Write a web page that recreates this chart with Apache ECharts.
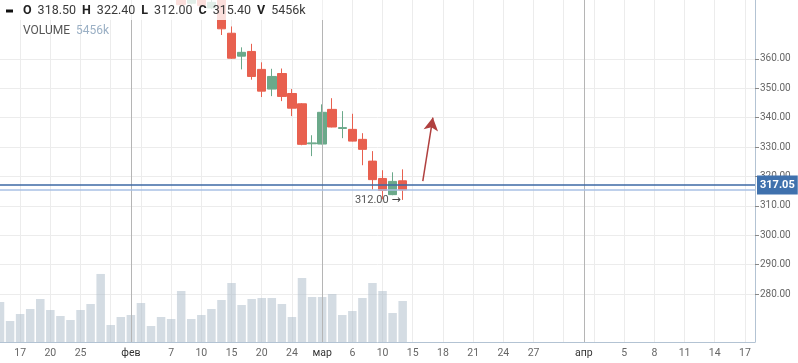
<!DOCTYPE html>
<html><head><meta charset="utf-8">
<script src="https://cdn.jsdelivr.net/npm/echarts@6/dist/echarts.min.js"></script>
<style>html,body{margin:0;padding:0;background:#fff;overflow:hidden}#c{width:798px;height:363px}</style>
</head><body><div id="c"></div>
<script>
// ---- data ----
const tradingDays = ['2023-01-13','2023-01-16','2023-01-17','2023-01-18','2023-01-19','2023-01-20','2023-01-23','2023-01-24','2023-01-25','2023-01-26','2023-01-27','2023-01-30','2023-01-31',
 '2023-02-01','2023-02-02','2023-02-03','2023-02-06','2023-02-07','2023-02-08','2023-02-09','2023-02-10','2023-02-13','2023-02-14','2023-02-15','2023-02-16','2023-02-17','2023-02-20','2023-02-21','2023-02-22','2023-02-24','2023-02-27','2023-02-28',
 '2023-03-01','2023-03-02','2023-03-03','2023-03-06','2023-03-07','2023-03-09','2023-03-10','2023-03-13','2023-03-14'];
const futureDays = ['2023-03-15','2023-03-16','2023-03-17','2023-03-18','2023-03-19','2023-03-20','2023-03-21','2023-03-22','2023-03-23','2023-03-24','2023-03-25','2023-03-26','2023-03-27','2023-03-28','2023-03-29','2023-03-30','2023-03-31',
 '2023-04-01','2023-04-02','2023-04-03','2023-04-04','2023-04-05','2023-04-06','2023-04-07','2023-04-08','2023-04-09','2023-04-10','2023-04-11','2023-04-12','2023-04-13','2023-04-14','2023-04-15','2023-04-16','2023-04-17','2023-04-18'];
const opens  = [398.2,401.0,397.6,400.2,396.0,392.9,394.4,392.0,393.6,390.5,392.4,387.3,388.4,386.0,389.3,385.2,386.1,384.9,
 383.5,378.9,382.3,377.3,381.6,368.7,360.9,362.5,356.4,349.7,355.0,348.2,344.7,331.1,331.0,342.8,336.3,336.0,332.6,325.2,319.3,313.8,318.50];
const closes = [401.5,397.4,399.8,396.1,392.7,394.6,391.8,393.9,390.2,392.8,386.9,388.6,386.2,389.1,385.0,386.4,384.7,385.8,
 378.4,382.0,378.1,379.2,370.2,360.2,362.2,354.0,349.0,354.0,347.2,343.2,330.9,331.4,341.8,336.8,336.6,332.0,329.2,318.9,315.2,318.3,315.40];
const lows   = [396.8,395.9,395.5,394.8,391.2,391.0,390.5,390.8,388.9,389.4,385.3,386.1,384.9,385.2,383.6,384.1,383.5,383.0,
 378.0,378.5,377.6,376.9,368.1,360.0,356.4,352.9,347.0,347.3,345.6,340.5,330.6,326.9,330.9,336.7,333.0,331.9,323.8,315.5,312.2,313.6,312.00];
const highs  = [403.0,402.2,401.6,401.3,397.5,396.0,395.7,395.1,394.6,394.0,393.3,389.7,389.5,390.4,390.1,387.6,387.2,386.9,
 384.6,383.1,383.0,380.8,382.5,371.0,363.9,365.1,358.8,356.6,356.7,349.7,344.9,334.0,344.5,346.6,342.2,341.3,334.7,328.6,322.1,321.4,322.40];
const volumes = [5324,2795,3727,4392,5723,4259,3461,2928,4259,5058,9051,2263,3328,3594,5191,2130,3328,3061,6788,3061,3594,4392,5590,7853,4925,5723,5856,5856,5058,3328,8518,5990,5990,6389,3594,4126,5856,7853,6788,3860,5456];
const lastPrice = 317.05;
const forecastArrow = [[42, 318.4], [43, 340.0]];
const monthNames = ['янв','фев','мар','апр'];
const yTickValues = [280,290,300,310,320,330,340,350,360];

// ---- build ----
const cats = tradingDays.concat(futureDays);
const candles = opens.map((o,i)=>[o, closes[i], lows[i], highs[i]]);
const isMonthStart = i => i>0 && i<cats.length && cats[i].slice(5,7)!==cats[i-1].slice(5,7);
const onGrid = i => i%3===2;
const nearMonth = i => { for (let j=i-2;j<=i+2;j++){ if (j!==i && isMonthStart(j)) return true; } return false; };
const showLabel = i => isMonthStart(i) || (onGrid(i) && !nearMonth(i));
const monthLines = cats.filter((c,i)=>isMonthStart(i)).map(c=>({xAxis:c}));
const last = candles.length-1;
const fmt = v => v.toFixed(2);
const volLast = volumes[last];

const FONT = 'Roboto';
const UP = '#6ba98a', DOWN = '#e8604f', AXIS = '#b3c3d3', GRIDC = '#ececec';
const L = -0.88, R = 43;
// split line colours for ticks 280..380 (370 has no line)
const hLineColors = [GRIDC,GRIDC,GRIDC,GRIDC,GRIDC,GRIDC,GRIDC,GRIDC,GRIDC,'rgba(0,0,0,0)',GRIDC];

const chart = echarts.init(document.getElementById('c'), null, {renderer:'canvas'});
chart.setOption({
  animation:false,
  textStyle:{fontFamily:FONT},
  grid:[
    {left:L, right:R, top:-0.1, bottom:69, containLabel:false},
    {left:L, right:R, top:0, bottom:21, containLabel:false}
  ],
  xAxis:[
    {type:'category', gridIndex:0, data:cats, boundaryGap:false, show:false},
    {type:'category', gridIndex:1, data:cats, boundaryGap:false,
      axisLine:{show:true, lineStyle:{color:AXIS, width:1}},
      axisTick:{show:false},
      splitLine:{show:true, interval:(i)=>onGrid(i)||isMonthStart(i), lineStyle:{color:GRIDC, width:1}},
      axisLabel:{show:true, interval:(i)=>showLabel(i), margin:6, fontSize:10.5, color:'#666', hideOverlap:false,
        formatter:(v)=>{ const d=+v.slice(8,10); const m=+v.slice(5,7); return d===1 ? '{m|'+monthNames[m-1]+'}' : String(d); },
        rich:{m:{color:'#333', fontSize:10.5, fontFamily:FONT}}}
    }
  ],
  yAxis:[
    {type:'value', gridIndex:0, position:'right', min:280, max:380, interval:10,
      axisLine:{show:false},
      axisTick:{show:true, length:4, customValues:yTickValues, lineStyle:{color:'#888'}},
      axisLabel:{show:true, customValues:yTickValues, margin:5, fontSize:10, color:'#666', formatter:(v)=>fmt(v)},
      splitLine:{show:true, showMinLine:true, showMaxLine:true, lineStyle:{color:hLineColors, width:1}}
    },
    {type:'value', gridIndex:1, position:'right', min:0, max:45500,
      axisLine:{show:true, lineStyle:{color:AXIS, width:1}},
      axisTick:{show:false}, axisLabel:{show:false}, splitLine:{show:false}
    }
  ],
  series:[
    {type:'bar', xAxisIndex:1, yAxisIndex:1, data:volumes, barWidth:8.5, silent:true,
      itemStyle:{color:'rgba(170,185,200,0.5)'},
      markLine:{silent:true, symbol:['none','none'], label:{show:false}, lineStyle:{color:'#b5b5b5', width:1, type:'solid'}, data:monthLines}
    },
    {type:'candlestick', xAxisIndex:0, yAxisIndex:0, data:candles, barWidth:9, clip:false, silent:true,
      itemStyle:{color:UP, color0:DOWN, borderColor:UP, borderColor0:DOWN, borderWidth:1},
      markPoint:{silent:true, symbol:'circle', symbolSize:0,
        data:[{type:'min', valueDim:'lowest'}],
        label:{show:true, position:'left', distance:2, color:'#555', fontSize:11, fontFamily:FONT,
          formatter:(p)=>'{n|'+fmt(p.value)+'} {a|→}',
          rich:{n:{color:'#555', fontSize:11, fontFamily:FONT}, a:{color:'#444', fontSize:11, fontFamily:'DejaVu Sans'}}}
      },
      markLine:{silent:true, symbol:['none','none'], animation:false,
        data:[
          {yAxis:closes[last], lineStyle:{color:'#a9c1e4', width:1.5, type:'solid'}, label:{show:false}},
          {yAxis:lastPrice, lineStyle:{color:'#3c69a4', width:1.5, type:'solid'},
            label:{show:true, position:'end', distance:2, formatter:()=>fmt(lastPrice), color:'#fff', fontWeight:'bold', fontSize:11, fontFamily:FONT,
              backgroundColor:'#3f71ad', padding:[4,3,4,3]}},
          [{coord:forecastArrow[0], symbol:'none', lineStyle:{color:'#b0403f', width:1.5, type:'solid'}, label:{show:false}},
           {coord:forecastArrow[1], symbol:'arrow', symbolSize:[11,13]}]
        ]
      }
    }
  ],
  graphic:[
    {type:'rect', z:100, silent:true, shape:{x:0,y:0,width:343,height:20}, style:{fill:'rgba(255,255,255,0.8)'}},
    {type:'rect', z:101, silent:true, shape:{x:6,y:9.5,width:7,height:3}, style:{fill:'#111'}},
    {type:'text', z:101, silent:true, x:23, y:11, style:{
      text:'{k|O}{v|'+fmt(opens[last])+'}{k|H}{v|'+fmt(highs[last])+'}{k|L}{v|'+fmt(lows[last])+'}{k|C}{v|'+fmt(closes[last])+'}{k|V}{w|'+volLast+'k}',
      verticalAlign:'middle', fill:'#333',
      rich:{k:{fontFamily:FONT, fontSize:12.5, fontWeight:'bold', fill:'#222', padding:[0,6,0,0]},
            v:{fontFamily:FONT, fontSize:12.5, fill:'#3a3a3a', padding:[0,6,0,0]},
            w:{fontFamily:FONT, fontSize:12.5, fill:'#3a3a3a'}}
    }},
    {type:'text', z:101, silent:true, x:23, y:31, style:{
      text:'{lab|VOLUME}{num|'+volLast+'k}', verticalAlign:'middle', fill:'#555',
      rich:{lab:{fontFamily:FONT, fontSize:12, fill:'#555', padding:[0,6,0,0]}, num:{fontFamily:FONT, fontSize:12, fill:'#9bb0c5'}}
    }}
  ]
});
</script></body></html>
